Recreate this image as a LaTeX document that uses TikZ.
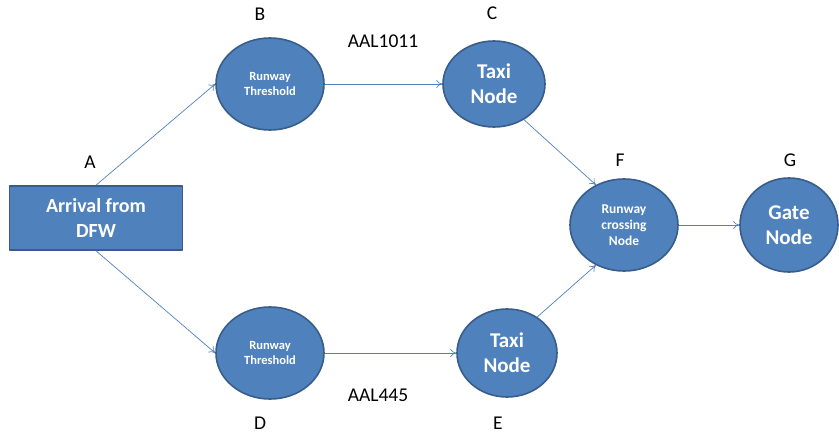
\documentclass[tikz,border=0pt]{standalone}
\usepackage{fontspec}
\setmainfont{Carlito}
\usepackage{tikz}
\usetikzlibrary{arrows.meta,shapes.geometric}
\definecolor{nodeblue}{HTML}{4F81BD}
\definecolor{nodeedge}{HTML}{385D8A}

\begin{document}
\begin{tikzpicture}[x=1pt,y=-1pt,line cap=round,line join=round,
  blob/.style={ellipse,fill=nodeblue,draw=nodeedge,line width=1.6pt,inner sep=0pt,
    text=white,font=\bfseries,align=center},
  small/.style={font=\bfseries\fontsize{12.5}{14.5}\selectfont},
  big/.style={font=\bfseries\fontsize{21}{25}\selectfont},
  link/.style={draw=nodeblue,line width=0.7pt,-{To[length=6pt,width=8pt]}},
  tag/.style={font=\fontsize{19.5}{22}\selectfont}]
\useasboundingbox (0,0) rectangle (839,434);
\node[draw=nodeedge,fill=nodeblue,line width=1.6pt,minimum width=173pt,minimum height=64pt,
  text=white,font=\bfseries\fontsize{20}{25}\selectfont,align=center] (a) at (96,218) {Arrival from\\DFW};
\node[blob,small,minimum width=108pt,minimum height=92pt] (b) at (270,84) {Runway\\Threshold};
\node[blob,big,minimum width=102pt,minimum height=86pt] (c) at (494,84) {Taxi\\Node};
\node[blob,small,minimum width=108pt,minimum height=92pt] (d) at (270,353) {Runway\\Threshold};
\node[blob,big,minimum width=100pt,minimum height=88pt] (e) at (507,353) {Taxi\\Node};
\node[blob,font=\bfseries\fontsize{13.5}{16}\selectfont,minimum width=108pt,minimum height=92pt] (f) at (624,225) {Runway\\crossing\\Node};
\node[blob,big,minimum width=98pt,minimum height=94pt] (g) at (789,225) {Gate\\Node};
% letters
\node[tag] (la) at (90,162) {A};
\node[tag] (lb) at (260,14) {B};
\node[tag] (lc) at (492,13) {C};
\node[tag] (ld) at (260,423) {D};
\node[tag] (le) at (498,423) {E};
\node[tag] (lf) at (620,160) {F};
\node[tag] (lg) at (790,160) {G};
\node[tag] (f1) at (383,41) {AAL1011};
\node[tag] (f2) at (378,395) {AAL445};
% links
\draw[link] (a.north) -- (b.west);
\draw[link] (a.south) -- (d.west);
\draw[link] (b.east) -- (c.west);
\draw[link] (d.east) -- (e.west);
\draw[link] (c.-50) -- (f.125);
\draw[link] (e.50) -- (f.-125);
\draw[link] (f.east) -- (g.west);
\end{tikzpicture}
\end{document}
